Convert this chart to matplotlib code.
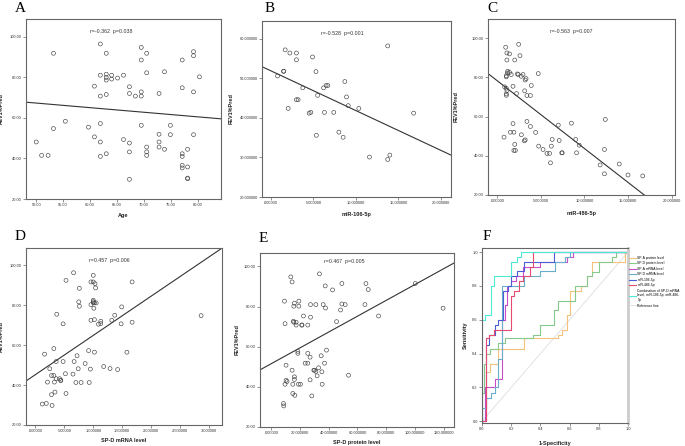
import numpy as np
import matplotlib
matplotlib.use("Agg")
import matplotlib.pyplot as plt

plt.rcParams['font.family'] = ['Liberation Sans', 'DejaVu Sans']

# ---------------- data ----------------
# Panel A: Age vs FEV1%Pred
a_age = [50.0, 51.0, 52.2, 53.2, 53.2, 55.4, 59.7, 60.8, 60.8, 61.9, 61.9, 61.9, 61.9, 61.9, 61.9,
         63.0, 63.0, 63.0, 63.0, 63.0, 63.0, 64.0, 64.0, 65.1, 66.2, 66.2, 67.3, 67.3, 67.3, 67.3,
         67.3, 68.4, 69.5, 69.5, 69.5, 69.5, 69.5, 70.5, 70.5, 70.5, 70.5, 70.5, 72.8, 72.8, 72.8,
         72.8, 73.8, 73.8, 74.9, 74.9, 77.1, 77.1, 77.1, 77.1, 77.1, 77.1, 78.1, 78.1, 78.1, 78.1,
         79.2, 79.2, 79.2, 79.2, 80.3]
a_fev = [48.1, 41.5, 41.5, 91.8, 54.7, 58.3, 55.4, 75.6, 50.6, 96.4, 81.0, 70.7, 57.2, 48.1, 41.0,
         91.8, 81.5, 79.9, 78.6, 71.5, 42.3, 81.0, 79.1, 79.6, 81.0, 49.3, 75.3, 72.0, 47.6, 43.2,
         29.7, 70.7, 94.7, 88.5, 72.8, 70.7, 56.3, 91.8, 82.2, 45.6, 43.2, 41.5, 72.0, 51.9, 48.1,
         45.6, 82.7, 44.5, 56.3, 51.7, 88.5, 74.8, 42.3, 41.0, 36.6, 35.3, 44.5, 35.8, 30.3, 30.0,
         92.6, 90.6, 72.8, 51.7, 80.2]
a_fit = (78.6, -0.2265)
a_stat = "r=-0.362  p=0.038"

# Panel B: miR-106-5p vs FEV1%Pred
b_mir = [0.78, 1.48, 1.52, 1.68, 2.23, 2.03, 3.0, 3.0, 3.0, 3.2, 3.75, 4.5, 4.7, 4.9, 5.3, 5.35,
         5.5, 6.2, 6.3, 6.5, 6.7, 7.4, 8.0, 8.5, 8.7, 8.9, 9.1, 10.35, 11.6, 13.75, 13.75, 14.0, 16.8]
b_fev = [50.6, 51.8, 51.8, 57.2, 56.4, 42.4, 56.4, 54.7, 44.6, 44.6, 47.6, 41.2, 41.4, 55.4, 51.7,
         35.6, 45.7, 47.6, 41.4, 48.2, 48.2, 41.4, 36.4, 35.1, 49.2, 45.3, 43.1, 42.4, 30.1, 58.2,
         29.5, 30.6, 41.2]
b_fit = (51.9, -1.005)
b_stat = "r=-0.528  p=0.001"

# Panel C: miR-486-5p vs FEV1%Pred
c_mir = [0.96, 1.1, 1.4, 1.1, 1.2, 1.15, 1.4, 1.03, 1.03, 1.6, 2.4, 0.84, 1.03, 1.1, 1.03, 1.03,
         1.8, 2.45, 2.6, 2.0, 2.2, 2.3, 2.75, 2.95, 3.3, 3.2, 3.14, 3.4, 3.8, 3.9, 4.7, 0.77, 1.5,
         1.8, 1.9, 2.0, 1.9, 2.07, 2.76, 3.1, 3.2, 3.4, 3.8, 4.4, 4.75, 5.25, 5.7, 6.0, 6.2, 6.1,
         6.3, 7.0, 7.1, 7.4, 7.45, 8.5, 9.0, 9.1, 9.4, 11.8, 12.3, 12.4, 12.3, 14.0, 15.0, 16.7]
c_fev = [95.3, 92.4, 91.9, 88.8, 83.1, 82.2, 82.5, 80.8, 80.2, 81.4, 81.4, 75.1, 74.4, 73.2, 71.5,
         70.8, 75.4, 96.8, 91.0, 88.8, 71.7, 81.7, 80.5, 81.4, 79.3, 78.6, 73.1, 70.7, 70.7, 75.8,
         81.9, 49.5, 52.0, 56.4, 52.0, 45.8, 42.7, 42.7, 50.7, 47.6, 48.1, 57.5, 54.9, 51.9, 44.9,
         43.2, 41.2, 41.2, 44.9, 36.4, 48.3, 55.6, 47.8, 41.5, 41.5, 56.6, 48.3, 41.5, 45.4, 35.3,
         43.2, 58.5, 30.8, 35.8, 30.2, 29.7]
c_fit = (78.2, -3.45)
c_stat = "r=-0.563  p=0.007"

# Panel D: SP-D mRNA level vs FEV1%Pred
d_mrna = [0.16, 0.25, 0.28, 0.32, 0.32, 0.21, 0.33, 0.36, 0.37, 0.36, 0.42, 0.44, 0.44, 0.12, 0.19,
          0.28, 0.29, 0.34, 0.48, 0.48, 0.52, 0.53, 0.53, 0.66, 0.65, 0.67, 0.70, 0.72, 0.74, 0.75,
          0.76, 0.76, 0.79, 0.86, 0.92, 0.93, 0.95, 0.96, 0.96, 0.96, 1.0, 1.0, 1.0, 1.0, 1.0, 1.02,
          1.01, 1.02, 1.02, 1.03, 1.04, 1.05, 1.09, 1.13, 1.13, 1.18, 1.29, 1.32, 1.37, 1.42, 1.48,
          1.49, 1.58, 1.67, 1.67, 2.86]
d_fev = [55.5, 48.2, 44.8, 44.8, 58.3, 41.5, 41.5, 51.8, 75.5, 43.2, 43.2, 42.5, 42.2, 30.5, 30.8,
         35.2, 29.8, 36.5, 70.7, 51.8, 45.7, 35.8, 92.5, 96.3, 45.5, 51.8, 41.3, 54.7, 48.2, 81.7,
         88.5, 79.5, 41.3, 50.8, 57.3, 41.3, 48.0, 72.5, 80.3, 91.7, 91.7, 95.0, 82.5, 81.8, 81.2,
         81.2, 78.5, 72.8, 56.5, 90.8, 88.7, 81.2, 70.5, 72.0, 70.8, 49.3, 48.3, 72.5, 75.0, 47.8,
         70.7, 79.2, 56.5, 91.7, 71.5, 74.8]
d_fit = (45.2, 19.7)
d_stat = "r=0.457  p=0.006"

# Panel E: SP-D protein level vs FEV1%Pred
e_prot = [8.6, 8.8, 9.3, 9.7, 10.4, 10.4, 9.7, 11.1, 13.7, 14.6, 14.6, 15.1, 15.1, 15.5, 15.8, 15.8,
          16.2, 16.2, 16.2, 16.5, 17.4, 17.4, 18.6, 18.6, 19.0, 19.3, 19.3, 20.4, 21.3, 21.5, 22.5,
          23.7, 25.5, 25.5, 25.5, 27.1, 27.1, 27.4, 27.4, 28.3, 31.1, 29.7, 30.2, 31.1, 32.0, 33.0,
          33.6, 34.8, 35.3, 35.5, 36.2, 37.1, 37.6, 37.8, 38.5, 42.7, 45.5, 48.3, 49.2, 49.2, 51.5,
          53.8, 65.2, 65.9, 67.5, 74.7, 100.2, 119.5]
e_fev = [31.7, 30.5, 82.7, 71.5, 50.8, 43.3, 41.3, 42.7, 94.8, 92.3, 48.3, 41.3, 36.7, 72.7, 72.2,
         80.2, 81.7, 45.0, 43.7, 35.8, 70.8, 72.2, 57.7, 56.7, 41.3, 82.7, 80.2, 41.3, 70.8, 70.8,
         75.3, 51.8, 56.7, 70.8, 51.8, 54.8, 43.5, 74.7, 81.0, 35.5, 81.0, 48.3, 48.3, 47.7, 45.5,
         49.5, 96.3, 55.5, 47.5, 41.3, 81.0, 51.8, 90.3, 79.3, 58.3, 88.3, 72.5, 78.3, 91.5, 81.3,
         81.0, 45.8, 81.0, 91.5, 88.5, 75.3, 91.5, 79.2]
e_fit = (51.5, 0.395)
e_stat = "r=0.467  p=0.005"

# Panel F: ROC curves (operating points)
roc_names = ["SP-A protein level", "SP-D protein level", "SP-A mRNA level", "SP-D mRNA level",
             "miR-106-5p", "miR-486-5p",
             "Combination of SP-D mRNA\nlevel, miR-106-5p, miR-486-\n5p"]
roc_fpr = [
    [0, 0.03, 0.057, 0.11, 0.29, 0.52, 0.55, 0.58, 0.60, 0.68, 0.72, 0.75, 0.98, 1.0],
    [0, 0, 0.015, 0.03, 0.057, 0.11, 0.16, 0.20, 0.35, 0.40, 0.49, 0.52, 0.64, 0.72, 0.75, 0.80, 0.89, 0.92, 1.0],
    [0, 0.02, 0.09, 0.14, 0.155, 0.17, 0.20, 0.23, 0.28, 0.40, 0.58, 0.62, 1.0],
    [0, 0, 0.03, 0.06, 0.086, 0.11, 0.14, 0.29, 0.40, 0.50, 0.57, 0.60, 1.0],
    [0, 0.03, 0.05, 0.087, 0.11, 0.144, 0.18, 0.20, 0.24, 0.29, 0.49, 1.0],
    [0, 0.03, 0.05, 0.08, 0.20, 0.22, 0.25, 0.28, 0.33, 0.35, 1.0],
    [0, 0, 0.02, 0.06, 0.08, 0.20, 0.24, 0.27, 1.0],
]
roc_tpr = [
    [0, 0.29, 0.34, 0.43, 0.49, 0.51, 0.54, 0.63, 0.77, 0.80, 0.86, 0.94, 1.0, 1.0],
    [0, 0.17, 0.34, 0.40, 0.43, 0.46, 0.49, 0.49, 0.51, 0.57, 0.66, 0.71, 0.80, 0.86, 0.88, 0.94, 0.97, 1.0, 1.0],
    [0, 0.20, 0.25, 0.60, 0.69, 0.80, 0.83, 0.86, 0.91, 0.94, 0.97, 1.0, 1.0],
    [0, 0.08, 0.14, 0.17, 0.20, 0.37, 0.80, 0.86, 0.89, 0.94, 0.97, 1.0, 1.0],
    [0, 0.45, 0.51, 0.57, 0.60, 0.77, 0.80, 0.86, 0.89, 0.94, 1.0, 1.0],
    [0, 0.49, 0.51, 0.54, 0.74, 0.77, 0.83, 0.86, 0.91, 1.0, 1.0],
    [0, 0.60, 0.63, 0.80, 0.86, 0.94, 0.97, 1.0, 1.0],
]
roc_colors = ["#f4c27a", "#86c98a", "#c94ccb", "#6aaecb", "#4c5ed6", "#e64a6e", "#4fe8d4"]

# ---------------- layout ----------------
W, H = 685, 446
fig = plt.figure(figsize=(W / 100, H / 100), dpi=100)

def add_ax(l, r, t, b):
    return fig.add_axes([l / W, 1 - b / H, (r - l) / W, (b - t) / H])

SP = "#666666"
TICKFS = 2.9
LABFS = 4.0

def style(ax):
    for s in ax.spines.values():
        s.set_color(SP)
        s.set_linewidth(0.8)
    ax.tick_params(length=2, width=0.5, colors=SP, labelsize=TICKFS, labelcolor="#333333", pad=1)

def fmt6(v):
    s = "%.6f" % v
    return s[1:] if s.startswith("0.") else s

def scatter_panel(box, x, y, fit, stat, xlim, ylim, xt, yt, xfmt, yfmt, xlabel, letter,
                  letter_xy, xl_y, yl_x, stat_xy):
    ax = add_ax(*box)
    ax.scatter(x, y, s=8, facecolors="none", edgecolors="#444444", linewidths=0.45, zorder=3)
    ax.axline((0, fit[0]), slope=fit[1], color="#333333", lw=0.8)
    ax.set_xlim(*xlim)
    ax.set_ylim(*ylim)
    ax.set_xticks(xt)
    ax.set_xticklabels([xfmt(v) for v in xt])
    ax.set_yticks(yt)
    ax.set_yticklabels([yfmt(v) for v in yt])
    style(ax)
    ax.set_xlabel(xlabel, fontsize=LABFS, fontweight="bold", color="#222222")
    ax.set_ylabel("FEV1%Pred", fontsize=LABFS, fontweight="bold", color="#222222")
    ax.xaxis.set_label_coords(0.5, xl_y)
    ax.yaxis.set_label_coords(yl_x, 0.5)
    ax.text(stat_xy[0], stat_xy[1], stat, transform=ax.transAxes, fontsize=3.8,
            color="#333333", ha="left", va="center")
    fig.text(letter_xy[0] / W, 1 - letter_xy[1] / H, letter, fontsize=11,
             family="Liberation Serif", ha="center", va="center")
    return ax

f2 = lambda v: "%.2f" % v

scatter_panel((26, 221, 19, 199), a_age, a_fev, a_fit, a_stat, (48.1, 84.3), (20, 108.7),
              [50, 55, 60, 65, 70, 75, 80], [20, 40, 60, 80, 100], f2, f2, "Age", "A",
              (20, 9), -0.08, -0.113, (0.33, 0.93))
scatter_panel((262, 451, 21, 197), b_mir, b_fev, b_fit, b_stat, (-1.05, 21.2), (20, 64.5),
              [0, 5, 10, 15, 20], [20, 30, 40, 50, 60], fmt6, fmt6, "miR-106-5p", "B",
              (270, 8), -0.085, -0.15, (0.31, 0.93))
scatter_panel((488, 675, 19, 195), c_mir, c_fev, c_fit, c_stat, (-1.07, 20.4), (20, 109.7),
              [0, 5, 10, 15, 20], [20, 40, 60, 80, 100], fmt6, f2, "miR-486-5p", "C",
              (492, 8), -0.09, -0.155, (0.33, 0.93))
scatter_panel((26, 222, 248, 425), d_mrna, d_fev, d_fit, d_stat, (-0.16, 3.22), (20, 108.7),
              [0, 0.5, 1.0, 1.5, 2.0, 2.5, 3.0], [20, 40, 60, 80, 100], fmt6, f2,
              "SP-D mRNA level", "D", (20, 236), -0.075, -0.112, (0.32, 0.93))
scatter_panel((260, 454, 253, 427), e_prot, e_fev, e_fit, e_stat, (-7.7, 127.1), (20, 106.7),
              [0, 20, 40, 60, 80, 100, 120], [20, 40, 60, 80, 100], fmt6, f2,
              "SP-D protein level", "E", (263, 239), -0.075, -0.103, (0.33, 0.95))

# Panel F
axf = add_ax(482, 628, 248, 423)
handles = []
for fpr, tpr, name, col in zip(roc_fpr, roc_tpr, roc_names, roc_colors):
    h, = axf.plot(fpr, tpr, drawstyle="steps-post", color=col, lw=0.8, label=name)
    handles.append(h)
ref, = axf.plot([0, 1], [0, 1], color="#dedede", lw=0.6, label="Reference line", zorder=0)
handles.append(ref)
axf.set_xlim(0, 1)
axf.set_ylim(-0.01, 1.024)
ticks = [0, 0.2, 0.4, 0.6, 0.8, 1.0]
axf.set_xticks(ticks)
axf.set_xticklabels(["%.1f" % v for v in ticks])
axf.set_yticks(ticks)
axf.set_yticklabels(["%.1f" % v for v in ticks])
style(axf)
axf.spines["right"].set_color("#cccccc")
axf.spines["right"].set_linewidth(2.0)
axf.set_xlabel("1-Specificity", fontsize=LABFS, fontweight="bold", color="#222222")
axf.set_ylabel("Sensitivity", fontsize=LABFS, fontweight="bold", color="#222222")
axf.xaxis.set_label_coords(0.5, -0.105)
axf.yaxis.set_label_coords(-0.096, 0.5)
axf.legend(handles=handles, loc="upper left", bbox_to_anchor=(1.01, 0.955), frameon=False,
           fontsize=2.4, handlelength=1.9, handletextpad=0.5, labelspacing=0.45,
           borderaxespad=0, borderpad=0)
fig.text(487 / W, 1 - 236 / H, "F", fontsize=11, family="Liberation Serif", ha="center", va="center")

fig.savefig("out.png", dpi=100, facecolor="white")
